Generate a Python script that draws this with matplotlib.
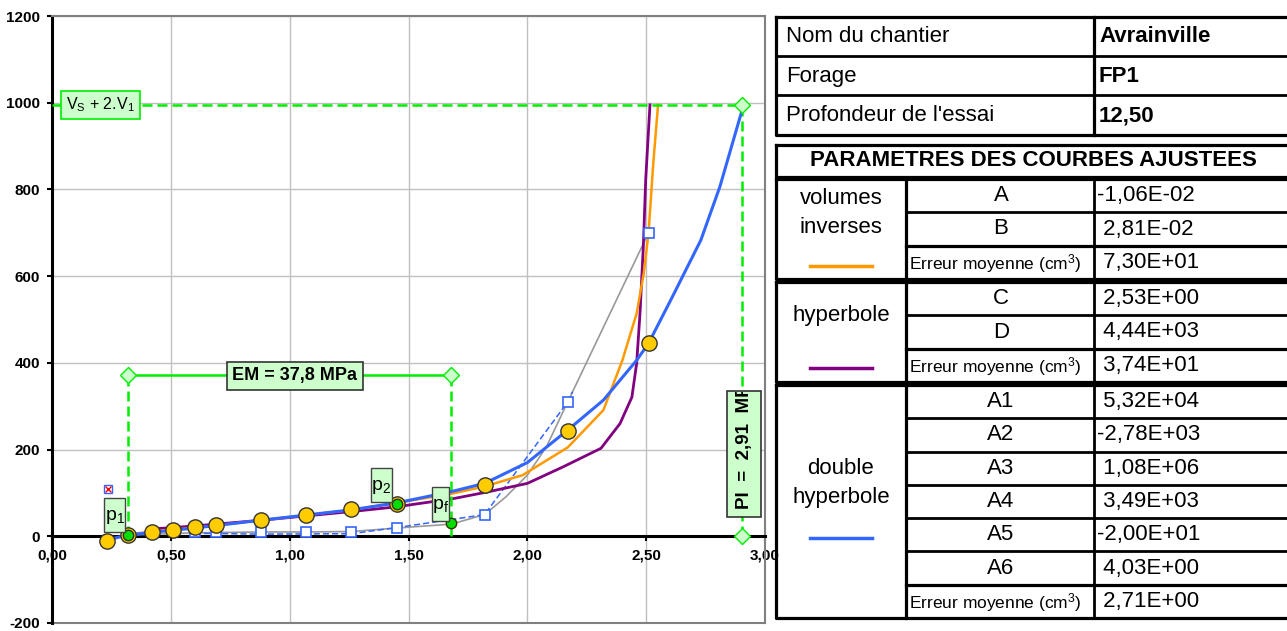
import matplotlib.pyplot as plt
from matplotlib.patches import Rectangle
from matplotlib.transforms import Bbox, TransformedBbox

plt.rcParams['font.family'] = ['Liberation Sans', 'DejaVu Sans']
plt.rcParams['mathtext.fontset'] = 'custom'
plt.rcParams['mathtext.rm'] = 'Liberation Sans'
plt.rcParams['mathtext.it'] = 'Liberation Sans'

# measured points (pressure MPa, volume cm3)
p_mes = [0.23, 0.32, 0.42, 0.51, 0.60, 0.69, 0.88, 1.07, 1.26, 1.45, 1.82, 2.17, 2.51]
v_mes = [-12, 3, 9, 15, 21, 26, 37, 49, 62, 75, 119, 242, 445]

# creep points (white squares) and the grey curve through them
p_flu = [0.60, 0.69, 0.88, 1.07, 1.26, 1.45, 1.82, 2.17, 2.51]
v_flu = [9, 9, 10, 10, 10, 20, 50, 310, 700]
p_flu_curve = [0.32, 0.50, 0.60, 0.88, 1.07, 1.26, 1.45, 1.68, 1.82, 1.91, 2.00, 2.08, 2.17, 2.51]
v_flu_curve = [3, 6, 8, 10, 10, 11, 19, 28, 50, 91, 141, 206, 310, 700]
p_flu_dash = [0.60, 0.88, 1.26, 1.45, 1.82, 2.17, 2.19]
v_flu_dash = [7, 5, 6, 20, 50, 310, 333]

# fitted curves
p_inv = [0.32, 0.42, 0.51, 0.60, 0.69, 0.88, 1.07, 1.26, 1.45, 1.68, 1.82, 1.98, 2.17, 2.32, 2.40, 2.46, 2.49, 2.51, 2.53, 2.55]
v_inv = [5, 10, 15, 20, 25, 37, 49, 61, 77, 98, 115, 141, 205, 291, 406, 514, 607, 700, 861, 995]
p_hyp = [0.42, 0.51, 0.60, 0.69, 0.88, 1.07, 1.26, 1.45, 1.69, 1.83, 2.00, 2.15, 2.31, 2.39, 2.44, 2.46, 2.474, 2.488, 2.498, 2.516]
v_hyp = [17, 20, 24, 28, 37, 47, 57, 68, 87, 102, 122, 160, 203, 260, 321, 399, 514, 668, 822, 995]
p_dbl = [0.25, 0.32, 0.42, 0.51, 0.60, 0.69, 0.88, 1.07, 1.26, 1.45, 1.68, 1.82, 2.00, 2.17, 2.32, 2.46, 2.51, 2.61, 2.73, 2.81, 2.91]
v_dbl = [-6, 3, 9, 14, 19, 25, 37, 49, 61, 77, 103, 122, 170, 245, 314, 406, 445, 552, 683, 806, 995]

# characteristic points
p1, v1 = 0.32, 3
p2, v2 = 1.45, 74
pf, vf = 1.68, 30
p_rej, v_rej = 0.237, 110
pl, v_lim = 2.905, 995
v_em = 372

xticks = [0, 0.5, 1.0, 1.5, 2.0, 2.5, 3.0]
xtick_labels = ['0,00', '0,50', '1,00', '1,50', '2,00', '2,50', '3,00']
yticks = [-200, 0, 200, 400, 600, 800, 1000, 1200]

fig = plt.figure(figsize=(12.87, 6.31), dpi=100)
ax = fig.add_axes([52 / 1287, 8 / 631, 713 / 1287, 607 / 631])
ax.spines['bottom'].set_position(('data', 0))
ax.set_xlim(0, 3)
ax.set_ylim(-200, 1200)
ax.set_xticks(xticks)
ax.set_xticklabels(xtick_labels, fontweight='bold', fontsize=11)
ax.set_yticks(yticks)
ax.set_yticklabels([str(v) for v in yticks], fontweight='bold', fontsize=11)
ax.grid(True, color='#c0c0c0', lw=1)
ax.set_axisbelow(True)
ax.spines['bottom'].set_linewidth(2.2)
ax.spines['left'].set_linewidth(2.2)
for s in ['top', 'right']:
    ax.spines[s].set_color('#808080')
    ax.spines[s].set_linewidth(1.5)
ax.plot([0, 3], [-200, -200], color='#808080', lw=1.5, clip_on=False, zorder=1)
ax.tick_params(axis='both', direction='out', length=3.5, width=1.5, pad=5)

green = '#00ee00'
box_green = '#ccffcc'

# fitted curves
ax.plot(p_flu_curve, v_flu_curve, color='#999999', lw=1.2, zorder=3)
ax.plot(p_flu_dash, v_flu_dash, color='#3366ff', lw=1.1, ls=(0, (4, 2)), zorder=3)
ax.plot(p_hyp, v_hyp, color='#800080', lw=2.0, zorder=4)
ax.plot(p_inv, v_inv, color='#ff9900', lw=1.8, zorder=4)
ax.plot(p_dbl, v_dbl, color='#3366ff', lw=2.2, zorder=5)
ax.plot(p_flu, v_flu, ls='none', marker='s', ms=6.5, mfc='white', mec='#3366ff', mew=1.2, zorder=6)
ax.plot(p_mes, v_mes, ls='none', marker='o', ms=11, mfc='#ffcc00', mec='#333333', mew=1, zorder=7)
ax.plot([p1, p2, pf], [v1, v2, vf], ls='none', marker='o', ms=7.5, mfc='#00dd00', mec='#333300', mew=1, zorder=8)
ax.plot([p_rej], [v_rej], ls='none', marker='s', ms=6, mfc='white', mec='#3366ff', mew=1, zorder=8)
ax.plot([p_rej], [v_rej], ls='none', marker='x', ms=5, mec='red', mew=1, zorder=9)

# construction lines
dash = (0, (4, 2))
ax.plot([0, pl], [v_lim, v_lim], color=green, lw=1.8, ls=dash, zorder=4)
ax.plot([pl, pl], [0, v_lim], color=green, lw=1.8, ls=dash, zorder=4)
ax.plot([p1, p1], [0, v_em], color=green, lw=1.8, ls=dash, zorder=4)
ax.plot([pf, pf], [0, v_em], color=green, lw=1.8, ls=dash, zorder=4)
ax.plot([p1, pf], [v_em, v_em], color=green, lw=1.8, zorder=4)
ax.plot([pl, pl, p1, pf], [v_lim, 0, v_em, v_em], ls='none', marker='D', ms=8,
        mfc=box_green, mec=green, mew=1, zorder=9, clip_on=False)

# labels
ax.text(0.204, 995, 'V$_{\\mathrm{S}}$ + 2.V$_{1}$', ha='center', va='center', fontsize=11.5, zorder=10,
        bbox=dict(boxstyle='square,pad=0.3', fc=box_green, ec=green, lw=1.2))
ax.text(1.022, 370, 'EM = 37,8 MPa', ha='center', va='center', fontsize=13, fontweight='bold', zorder=10,
        bbox=dict(boxstyle='square,pad=0.3', fc=box_green, ec='#333333', lw=1.2))

pi_box = Rectangle((2.840, 44), 0.143, 291, fc=box_green, ec='#333333', lw=1.2, zorder=10)
ax.add_patch(pi_box)
t = ax.text(2.912, 62, 'PI  =  2,91  MPa', rotation=90, rotation_mode='anchor', ha='left', va='center',
            fontsize=13.5, fontweight='bold', zorder=11)
t.set_clip_box(TransformedBbox(Bbox([[2.840, 44], [2.983, 333]]), ax.transData))
t.set_clip_on(True)

for (x0, y0, w, h, lab) in [(0.219, 10, 0.090, 78, 'p$_{1}$'),
                            (1.341, 79, 0.088, 78, 'p$_{2}$'),
                            (1.600, 35, 0.072, 78, 'p$_{f}$')]:
    ax.add_patch(Rectangle((x0, y0), w, h, fc=box_green, ec='#444444', lw=1, zorder=10))
    ax.text(x0 + w / 2, y0 + h / 2 - 4, lab, ha='center', va='center', fontsize=14, zorder=11)

# table on the right, drawn in pixel coordinates
tab = fig.add_axes([0, 0, 1, 1])
tab.set_xlim(0, 1287)
tab.set_ylim(631, 0)
tab.axis('off')


def line(xs, ys, lw=2.0):
    tab.plot(xs, ys, color='black', lw=lw, solid_capstyle='projecting')


def rect(x0, x1, y0, y1, lw=2.3):
    line([x0, x1, x1, x0, x0], [y0, y0, y1, y1, y0], lw)


XR = 1300
rect(776, XR, 17, 135)
line([776, XR], [56, 56])
line([776, XR], [95, 95])
line([1094, 1094], [17, 135], 2.3)
info_labels = ['Nom du chantier', 'Forage', "Profondeur de l'essai"]
info_values = ['Avrainville', 'FP1', '12,50']
for i, (lab, val) in enumerate(zip(info_labels, info_values)):
    yc = 37 + 39.3 * i
    tab.text(786, yc, lab, ha='left', va='center', fontsize=16)
    tab.text(1099, yc, val, ha='left', va='center', fontsize=16, fontweight='bold')

rect(776, XR, 145, 177)
tab.text(1033, 161, 'PARAMETRES DES COURBES AJUSTEES', ha='center', va='center', fontsize=16, fontweight='bold')

groups = ['volumes\ninverses', 'hyperbole', 'double\nhyperbole']
group_colors = ['#ff9900', '#800080', '#3366ff']
group_rows = [(179, 279), (282, 382), (385, 618)]
group_label_y = [213, 316, 483]
swatch_y = [266, 368, 538]
param_names = [['A', 'B'], ['C', 'D'], ['A1', 'A2', 'A3', 'A4', 'A5', 'A6']]
param_values = [['-1,06E-02', ' 2,81E-02', ' 7,30E+01'],
                ['2,53E+00', '4,44E+03', '3,74E+01'],
                [' 5,32E+04', '-2,78E+03', ' 1,08E+06', ' 3,49E+03', '-2,00E+01', ' 4,03E+00', ' 2,71E+00']]

for g in range(3):
    y0, y1 = group_rows[g]
    rect(776, XR, y0, y1)
    line([906, 906], [y0, y1], 2.3)
    line([1094, 1094], [y0, y1], 2.0)
    nrow = len(param_names[g]) + 1
    h = (y1 - y0) / nrow
    for r in range(1, nrow):
        line([906, XR], [y0 + r * h, y0 + r * h], 2.3 if r == nrow - 1 else 2.0)
    tab.text(841, group_label_y[g], groups[g], ha='center', va='center', fontsize=16, linespacing=1.45)
    tab.plot([810, 872], [swatch_y[g], swatch_y[g]], color=group_colors[g], lw=2.5)
    for r in range(nrow):
        yc = y0 + (r + 0.5) * h
        if r < nrow - 1:
            tab.text(1001, yc, param_names[g][r], ha='center', va='center', fontsize=16)
        else:
            tab.text(909, yc + 1, 'Erreur moyenne (cm$^{3}$)', ha='left', va='center', fontsize=12.5)
        val = param_values[g][r]
        if g == 1:
            val = ' ' + val
        tab.text(1097, yc, val, ha='left', va='center', fontsize=16)

plt.savefig('out.png', dpi=100)
